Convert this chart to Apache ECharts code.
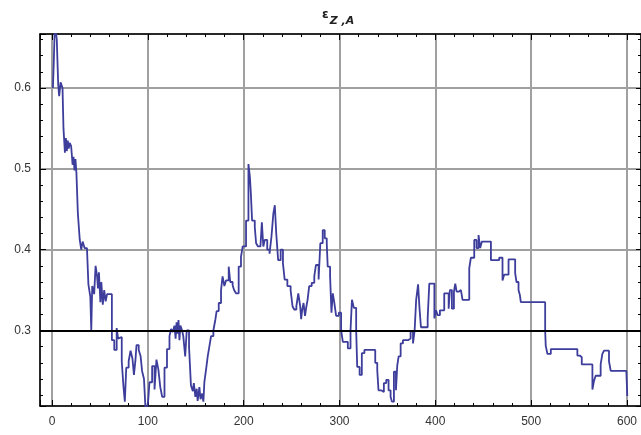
<!DOCTYPE html>
<html>
<head>
<meta charset="utf-8">
<script src="https://cdn.jsdelivr.net/npm/echarts@6/dist/echarts.min.js"></script>
<style>
html,body{margin:0;padding:0;background:#fff;}
#chart{width:641px;height:435px;}
</style>
</head>
<body>
<div id="chart"></div>
<script>
// step positions (x) and values (y)
const stepX = [
  1,2,3,5,6.5,7.5,9,11,12,13.5,14.5,15.5,16.5,17.5,18.5,20,21.5,22.5,23.5,24.5,25.5,27,29,30.5,32,34,36.5,38,40,41,42,44,45.5,47,48,49,50.5,51.5,53,54.5,56,57.5,60,
  62.5,65,67.5,69,71,72.8,74.5,76,77.5,80,82,84,85.5,87,88.2,90.5,92.5,94,96,97.5,99,100.5,101.7,
  104.5,107,109,111,113,115,117.4,120,122.6,124.3,126,127.8,129,130,131,132,133,134,135.8,137,139,140.6,143,145,147,148,149.6,151,152,153.8,155,156.6,158,159,160.8,162.5,164.2,166,168.4,170.4,171.8,174,176.4,178,179.9,181.6,184.4,186,188.5,190,192,194.8,197.2,199,
  202.5,205,206.5,207.5,208.8,211.6,213,215,217.5,219,220.5,222,224.6,227,229,231,232.5,234,236,238.6,241,242.8,245.6,249,251,252.6,255,257,259,260,261,262.5,264,265.5,266.7,268.4,271,273.7,275.4,278.2,280,282.5,284.6,286.7,287.7,290.2,291.6,293,294.5,296.5,299.3,
  301.7,303.5,308.7,311.5,313,315,317.4,318.5,321,323.3,326,337.3,339.4,340.7,343.5,346.3,348.8,351.2,353.3,354.7,356.8,358.9,360.3,361.7,363.8,366.2,371.4,374.2,376.7,378.4,380,382,
  383.5,385,392,393.7,399,400.7,402.4,404.8,409.3,413.9,415.2,417.3,419.4,420.8,422.2,424.3,426.7,428.4,435.4,437.1,440.6,443,445.1,446.8,448.6,458,466.6,470.1,471.8,476.4,483.3,484.7,486.8,488.2,489.2,514.6,515.2,517,520.5,548.2,550.7,552.8,563.9,565.6,567.3,572.5,574.3,576,581.2,583,599.3,600.3
];
const stepY = [
  0.600,0.637,0.680,0.660,0.604,0.590,0.607,0.600,0.550,0.520,0.538,0.522,0.535,0.525,0.532,0.528,0.505,0.515,0.498,0.512,0.495,0.445,0.412,0.400,0.410,0.402,0.400,0.357,0.342,0.300,0.355,0.345,0.380,0.368,0.352,0.372,0.335,0.360,0.332,0.350,0.336,0.345,0.345,
  0.288,0.276,0.303,0.290,0.292,0.262,0.232,0.212,0.254,0.262,0.275,0.265,0.245,0.262,0.282,0.276,0.268,0.250,0.240,0.205,0.200,0.215,0.236,
  0.256,0.227,0.264,0.252,0.230,0.218,0.254,0.277,0.293,0.302,0.298,0.306,0.290,0.310,0.296,0.313,0.288,0.306,0.300,0.293,0.268,0.300,0.280,0.232,0.225,0.235,0.218,0.228,0.213,0.230,0.215,0.222,0.212,0.236,0.252,0.268,0.280,0.293,0.300,0.313,0.324,0.334,0.350,0.367,0.355,0.362,0.379,0.360,0.356,0.350,0.346,0.379,0.391,0.404,
  0.436,0.506,0.490,0.470,0.436,0.428,0.408,0.404,0.404,0.434,0.404,0.412,0.400,0.395,0.416,0.445,0.455,0.420,0.387,0.400,0.383,0.363,0.355,0.350,0.330,0.326,0.330,0.346,0.330,0.314,0.325,0.334,0.318,0.330,0.338,0.355,0.359,0.367,0.381,0.363,0.408,0.424,0.414,0.408,0.379,0.367,0.322,0.346,0.335,0.318,0.322,
  0.300,0.286,0.278,0.300,0.338,0.328,0.300,0.255,0.245,0.272,0.276,0.260,0.251,0.226,0.224,0.235,0.239,0.226,0.218,0.212,0.249,0.226,0.257,0.268,0.284,0.288,0.290,0.299,0.284,0.300,0.338,0.357,
  0.327,0.304,0.315,0.358,0.315,0.325,0.319,0.325,0.346,0.327,0.350,0.327,0.348,0.358,0.348,0.350,0.352,0.338,0.377,0.390,0.412,0.402,0.418,0.402,0.410,0.387,0.390,0.362,0.369,0.388,0.371,0.360,0.350,0.344,0.335,0.300,0.281,0.271,0.277,0.269,0.267,0.258,0.227,0.238,0.244,0.258,0.271,0.275,0.262,0.250,0.250,0.219
];
const axisLineY = 0.3;
const titleMain = 'ε';
const titleSub = 'Z ,A';

const seriesData = stepX.map((x, i) => [x, stepY[i]]);

const chart = echarts.init(document.getElementById('chart'), null, {renderer: 'canvas'});
const xMin = -12.5, xMax = 614.6, yMin = 0.2066, yMax = 0.6668;
const tickStyle = {color: '#000', width: 1};
chart.setOption({
  animation: false,
  backgroundColor: '#fff',
  title: {
    text: '{a|' + titleMain + '}{b|' + titleSub + '}',
    left: 317, top: 4,
    textStyle: {
      rich: {
        a: {fontSize: 12, color: '#222', fontFamily: 'DejaVu Sans', verticalAlign: 'top', padding: [0, 1, 6, 0]},
        b: {fontSize: 11, color: '#222', fontWeight: 'bold', fontStyle: 'italic', fontFamily: 'DejaVu Sans', verticalAlign: 'bottom', padding: [6, 0, 0, 0]}
      }
    }
  },
  grid: {left: 40, right: -1, top: 34, bottom: 29},
  xAxis: [{
    type: 'value', min: xMin, max: xMax, position: 'bottom',
    axisLine: {show: true, onZero: false, lineStyle: {color: '#000', width: 1.5}},
    axisTick: {show: true, inside: true, length: 6, lineStyle: tickStyle},
    minorTick: {show: true, splitNumber: 5, length: 3, lineStyle: tickStyle},
    axisLabel: {show: true, showMinLabel: false, showMaxLabel: false, margin: 10, color: '#333', fontSize: 12, fontFamily: 'Liberation Sans'},
    splitLine: {show: true, lineStyle: {color: '#a0a0a0', width: 2}},
    minorSplitLine: {show: false}
  }, {
    type: 'value', min: xMin, max: xMax, position: 'top',
    axisLine: {show: true, onZero: false, lineStyle: {color: '#000', width: 1.5}},
    axisTick: {show: true, inside: true, length: 6, lineStyle: tickStyle},
    minorTick: {show: true, splitNumber: 5, length: 3, lineStyle: tickStyle},
    axisLabel: {show: false},
    splitLine: {show: false}
  }],
  yAxis: [{
    type: 'value', min: yMin, max: yMax, position: 'left',
    axisLine: {show: true, onZero: false, lineStyle: {color: '#000', width: 1.5}},
    axisTick: {show: true, inside: true, length: 6, lineStyle: tickStyle},
    minorTick: {show: true, splitNumber: 5, length: 3, lineStyle: tickStyle},
    axisLabel: {show: true, showMinLabel: false, showMaxLabel: false, margin: 9, color: '#333', fontSize: 12, fontFamily: 'Liberation Sans',
      formatter: v => v.toFixed(1)},
    splitLine: {show: true, lineStyle: {color: '#a0a0a0', width: 2}}
  }, {
    type: 'value', min: yMin, max: yMax, position: 'right',
    axisLine: {show: true, onZero: false, lineStyle: {color: '#000', width: 1.5}},
    axisTick: {show: true, inside: true, length: 5, lineStyle: tickStyle},
    minorTick: {show: true, splitNumber: 5, length: 3, lineStyle: tickStyle},
    axisLabel: {show: false},
    splitLine: {show: false}
  }],
  series: [{
    type: 'line',
    xAxisIndex: 0, yAxisIndex: 0,
    data: seriesData,
    step: 'end',
    showSymbol: false,
    symbol: 'none',
    clip: true,
    lineStyle: {color: '#3d3d9c', width: 1.8},
    markLine: {
      silent: true, symbol: 'none', animation: false,
      label: {show: false},
      lineStyle: {color: '#000', width: 2, type: 'solid'},
      data: [{yAxis: axisLineY}]
    }
  }]
});
</script>
</body>
</html>
